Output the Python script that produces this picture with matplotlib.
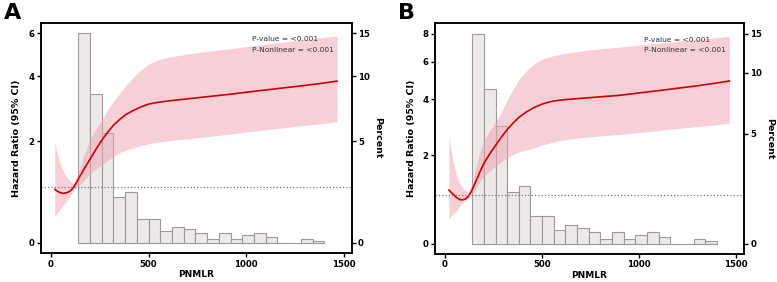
import numpy as np
import matplotlib
matplotlib.use("Agg")
import matplotlib.pyplot as plt
from matplotlib.ticker import NullLocator

# histogram (percent) - same for both panels
bin_edges = [140, 200, 260, 320, 380, 440, 500, 560, 620, 680, 740, 800, 860,
             920, 980, 1040, 1100, 1160, 1220, 1280, 1340, 1400]
percent = [15.0, 8.37, 5.5, 2.02, 2.27, 1.04, 1.04, 0.52, 0.69, 0.6, 0.42, 0.17,
           0.42, 0.17, 0.33, 0.42, 0.25, 0.0, 0.0, 0.17, 0.09]

x = [20, 40, 60, 75, 90, 105, 121, 140, 160, 180, 200, 230, 260, 290, 320, 350,
     380, 420, 460, 500, 550, 600, 700, 800, 900, 1000, 1100, 1200, 1300, 1400, 1465]

# panel A
hr_a = [0.96, 0.91, 0.885, 0.89, 0.91, 0.95, 1.03, 1.16, 1.30, 1.44, 1.58, 1.80, 2.02,
        2.22, 2.41, 2.56, 2.70, 2.83, 2.94, 3.03, 3.09, 3.13, 3.20, 3.27, 3.34, 3.42,
        3.50, 3.58, 3.66, 3.75, 3.82]
upper_a = [1.97, 1.58, 1.36, 1.24, 1.16, 1.10, 1.07, 1.30, 1.55, 1.80, 2.05, 2.30, 2.55,
           2.85, 3.12, 3.37, 3.62, 3.95, 4.25, 4.50, 4.68, 4.80, 4.95, 5.07, 5.18, 5.30,
           5.42, 5.54, 5.66, 5.78, 5.84]
lower_a = [0.46, 0.55, 0.65, 0.72, 0.79, 0.87, 0.98, 1.02, 1.09, 1.18, 1.28, 1.36, 1.46,
           1.55, 1.64, 1.72, 1.78, 1.84, 1.89, 1.94, 1.98, 2.01, 2.06, 2.11, 2.17, 2.23,
           2.29, 2.35, 2.41, 2.46, 2.51]

# panel B
hr_b = [1.12, 1.03, 0.95, 0.91, 0.90, 0.92, 0.98, 1.13, 1.34, 1.56, 1.78, 2.04, 2.29,
        2.55, 2.80, 3.03, 3.24, 3.46, 3.64, 3.78, 3.90, 3.96, 4.03, 4.10, 4.17, 4.28,
        4.39, 4.51, 4.63, 4.77, 4.88]
upper_b = [2.55, 1.85, 1.45, 1.28, 1.18, 1.10, 1.05, 1.30, 1.72, 2.12, 2.42, 2.76, 3.08,
           3.45, 3.95, 4.45, 4.95, 5.45, 5.85, 6.15, 6.35, 6.50, 6.70, 6.85, 6.98, 7.12,
           7.27, 7.42, 7.57, 7.70, 7.80]
lower_b = [0.50, 0.60, 0.67, 0.76, 0.84, 0.89, 0.94, 1.01, 1.16, 1.32, 1.45, 1.58, 1.70,
           1.82, 1.93, 2.02, 2.10, 2.15, 2.22, 2.30, 2.38, 2.45, 2.53, 2.59, 2.64, 2.70,
           2.77, 2.84, 2.91, 2.97, 3.03]

hr_ticks_a = [0, 2, 4, 6]
hr_ticks_b = [0, 2, 4, 6, 8]
pct_ticks = [0, 5, 10, 15]
x_ticks = [0, 500, 1000, 1500]


def panel(fig, rect, letter, hr, upper, lower, hr_ticks):
    ax = fig.add_axes(rect)
    tw = ax.twinx()
    k = hr_ticks[-1] / pct_ticks[-1]

    # display limits with 5% padding in asinh space
    d_top = np.arcsinh(hr_ticks[-1] / 2)
    pad = 0.05 * d_top
    ylo, yhi = 2 * np.sinh(-pad), 2 * np.sinh(d_top + pad)

    ax.set_yscale('asinh', linear_width=2)
    tw.set_yscale('asinh', linear_width=2 / k)

    widths = np.diff(bin_edges)
    tw.bar(bin_edges[:-1], percent, width=widths, align='edge',
           facecolor='#ede9e9', edgecolor='#9a9a9a', linewidth=0.8)

    ax.fill_between(x, lower, upper, color='#f0a0b0', alpha=0.5, linewidth=0)
    ax.plot(x, hr, color='#cc0000', lw=1.2)
    ax.axhline(1, color='#777777', ls=':', lw=0.9)

    ax.set_zorder(tw.get_zorder() + 1)
    ax.patch.set_visible(False)

    ax.set_xlim(-52, 1540)
    ax.set_ylim(ylo, yhi)
    tw.set_ylim(ylo / k, yhi / k)

    ax.set_yticks(hr_ticks, [str(t) for t in hr_ticks])
    tw.set_yticks(pct_ticks, [str(t) for t in pct_ticks])
    ax.set_xticks(x_ticks, [str(t) for t in x_ticks])
    ax.yaxis.set_minor_locator(NullLocator())
    tw.yaxis.set_minor_locator(NullLocator())

    for a in (ax, tw):
        a.tick_params(labelsize=6.2, width=1, length=3, pad=1.5)
        for lab in a.get_xticklabels() + a.get_yticklabels():
            lab.set_fontweight('bold')
        for s in a.spines.values():
            s.set_linewidth(1.1)

    ax.set_xlabel('PNMLR', fontsize=6.5, fontweight='bold', labelpad=1)
    ax.set_ylabel('Hazard Ratio (95% CI)', fontsize=6.8, fontweight='bold', labelpad=5)
    tw.set_ylabel('Percent', fontsize=6.8, fontweight='bold', rotation=270, labelpad=9)

    ax.text(0.678, 0.93, 'P-value = <0.001', transform=ax.transAxes,
            fontsize=5.4, color='#333333', va='center')
    ax.text(0.678, 0.883, 'P-Nonlinear = <0.001', transform=ax.transAxes,
            fontsize=5.4, color='#333333', va='center')

    fig.text(rect[0] - 0.047, 0.99, letter, fontsize=16, fontweight='bold',
             va='top', ha='left')


fig = plt.figure(figsize=(7.77, 2.82), dpi=100)
panel(fig, [0.0524, 0.1018, 0.4002, 0.8177], 'A', hr_a, upper_a, lower_a, hr_ticks_a)
panel(fig, [0.5598, 0.0993, 0.3977, 0.8177], 'B', hr_b, upper_b, lower_b, hr_ticks_b)

fig.savefig('out.png', dpi=100)
